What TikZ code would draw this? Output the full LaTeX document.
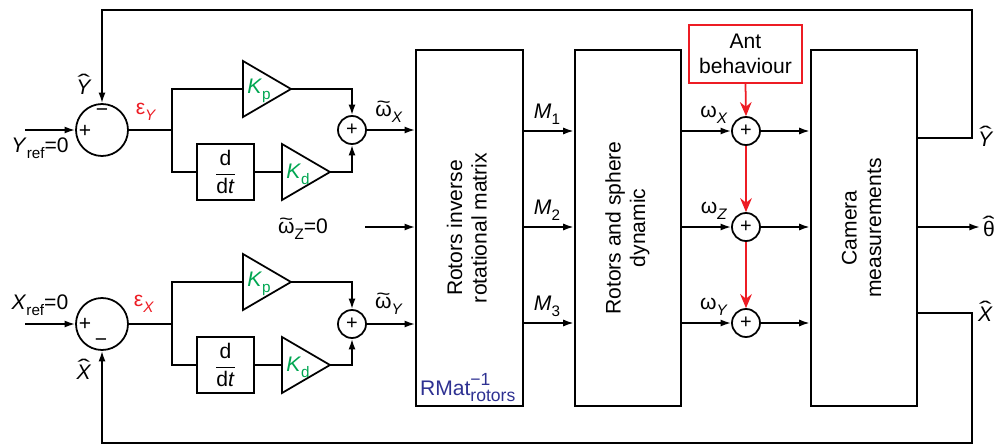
\documentclass[tikz,border=0pt]{standalone}
\usepackage{fontspec}
\setmainfont{Liberation Sans}
\usetikzlibrary{arrows.meta,shapes.geometric,calc}
\definecolor{antred}{RGB}{237,28,36}
\definecolor{kgreen}{RGB}{0,166,81}
\definecolor{rblue}{RGB}{46,49,146}
\newcommand\sbs[1]{\raisebox{-0.3em}{\fontsize{13}{13}\selectfont #1}}
\newcommand\sbb[1]{\raisebox{-0.3em}{\fontsize{15}{15}\selectfont #1}}
\newcommand\sps[1]{\raisebox{0.45em}{\fontsize{15}{15}\selectfont #1}}
\newcommand\tld[1]{{\ooalign{#1\cr\hidewidth\raisebox{0.38em}{\scalebox{1.15}[0.9]{\char"7E}}\hidewidth\cr}}}
\newcommand\hatc[1]{{\ooalign{#1\cr\hidewidth\raisebox{0.22em}{\scalebox{1.8}[1]{ˆ}}\hidewidth\cr}}}
\tikzset{
  blk/.style={draw, line width=1.5pt, minimum width=3.2cm, minimum height=10.68cm, inner sep=0pt},
  bigsum/.style={draw, circle, line width=1.5pt, minimum size=1.56cm, inner sep=0pt},
  smsum/.style={draw, circle, line width=1.5pt, minimum size=0.84cm, inner sep=0pt, font=\fontsize{17}{17}\selectfont},
  ddt/.style={draw, line width=1.5pt, minimum width=1.71cm, minimum height=1.68cm, inner sep=0pt},
  sgn/.style={font=\fontsize{18}{18}\selectfont, inner sep=0pt},
  lbl/.style={inner sep=1pt},
  redarr/.style={draw=antred, line width=1.5pt, -{Stealth[length=12pt,width=10pt,inset=4pt]}},
  gaintri/.pic={
    \draw (-24,-28) -- (24,0) -- (-24,28) -- cycle;
    \coordinate (-in) at (-24,0);
    \coordinate (-out) at (24,0);
    \node[text=kgreen, inner sep=0pt] (-txt) at (-8,2) {#1};
  },
}
\begin{document}
\begin{tikzpicture}[x=0.03cm, y=-0.03cm, line width=1.5pt,
  font=\fontsize{18}{21}\selectfont, >={Latex[length=9pt,width=6pt]}]
\useasboundingbox (0,0) rectangle (994,445);

% main blocks
\node[blk, align=center, minimum width=3.21cm] (rot) at (469.5,228)
  {\rotatebox{90}{\begin{tabular}{c}Rotors inverse\\rotational matrix\end{tabular}}};
\node[blk] (dyn) at (628,228)
  {\rotatebox{90}{\begin{tabular}{c}Rotors and sphere\\dynamic\end{tabular}}};
\node[blk] (cam) at (864,228)
  {\rotatebox{90}{\begin{tabular}{c}Camera\\measurements\end{tabular}}};
\node[anchor=south west, text=rblue, inner sep=1pt] (rmat) at (418,404)
  {RMat\rlap{\sps{−1}}\sbb{rotors}};

% Y loop
\node[bigsum] (ey) at (102,130) {};
\node[sgn] (eyp) at (85,131) {+};
\node[sgn] (eym) at (102,113) {−};
\coordinate (yref) at (25,130);
\draw[->] (yref) -- (ey.west);
\node[lbl] (yreflbl) at (40,148) {\textit{Y}\sbs{ref}=0};
\node[lbl, text=antred] (epsy) at (146,112) {ε\sbs{\textit{Y}}};
\coordinate (by) at (172,130);
\draw (ey.east) -- (by);
\pic (kpy) at (267,89) {gaintri={\textit{K}\sbs{p}}};
\node[ddt] (ddty) at (225.5,172) {$\displaystyle\frac{\hbox{d}}{\hbox{d\textit{t}}}$};
\pic (kdy) at (306,172) {gaintri={\textit{K}\sbs{d}}};
\node[smsum] (sy) at (352,130) {+};
\draw (by) |- (kpy-in);
\draw (by) |- (ddty.west);
\draw (ddty.east) -- (kdy-in);
\draw[->] (kpy-out) -| (sy.north);
\draw[->] (kdy-out) -| (sy.south);
\draw[->] (sy.east) -- (sy -| rot.west);
\node[lbl] (wtx) at (389,114) {\tld{ω}\sbs{\textit{X}}};

% X loop
\node[bigsum] (ex) at (102,324) {};
\node[sgn] (exp) at (85,324) {+};
\node[sgn] (exm) at (101,343) {−};
\coordinate (xref) at (25,324);
\draw[->] (xref) -- (ex.west);
\node[lbl] (xreflbl) at (40,305) {\textit{X}\sbs{ref}=0};
\node[lbl, text=antred] (epsx) at (144,304) {ε\sbs{\textit{X}}};
\coordinate (bx) at (172,324);
\draw (ex.east) -- (bx);
\pic (kpx) at (267,282) {gaintri={\textit{K}\sbs{p}}};
\node[ddt] (ddtx) at (225.5,365) {$\displaystyle\frac{\hbox{d}}{\hbox{d\textit{t}}}$};
\pic (kdx) at (306,365) {gaintri={\textit{K}\sbs{d}}};
\node[smsum] (sx2) at (352,324) {+};
\draw (bx) |- (kpx-in);
\draw (bx) |- (ddtx.west);
\draw (ddtx.east) -- (kdx-in);
\draw[->] (kpx-out) -| (sx2.north);
\draw[->] (kdx-out) -| (sx2.south);
\draw[->] (sx2.east) -- (sx2 -| rot.west);
\node[lbl] (wty) at (389,306) {\tld{ω}\sbs{\textit{Y}}};

% omega_Z reference
\node[lbl] (wtz) at (303,229) {\tld{ω}\sbs{Z}=0};
\coordinate (wzs) at (365,227);
\draw[->] (wzs) -- (wzs -| rot.west);

% M arrows
\coordinate (m1) at (523,131);
\coordinate (m2) at (523,227);
\coordinate (m3) at (523,323);
\draw[->] (rot.east |- m1) -- (dyn.west |- m1);
\draw[->] (rot.east |- m2) -- (dyn.west |- m2);
\draw[->] (rot.east |- m3) -- (dyn.west |- m3);
\node[lbl] (m1l) at (547,114) {\textit{M}\sbs{1}};
\node[lbl] (m2l) at (547,210) {\textit{M}\sbs{2}};
\node[lbl] (m3l) at (547,306) {\textit{M}\sbs{3}};

% disturbance sums
\node[smsum] (ox) at (746,131) {+};
\node[smsum] (oz) at (746,227) {+};
\node[smsum] (oy) at (746,323) {+};
\draw[->] (dyn.east |- ox) -- (ox.west);
\draw[->] (dyn.east |- oz) -- (oz.west);
\draw[->] (dyn.east |- oy) -- (oy.west);
\draw[->] (ox.east) -- (ox -| cam.west);
\draw[->] (oz.east) -- (oz -| cam.west);
\draw[->] (oy.east) -- (oy -| cam.west);
\node[lbl] (wxl) at (714,115) {ω\sbs{\textit{X}}};
\node[lbl] (wzl) at (714,211) {ω\sbs{\textit{Z}}};
\node[lbl] (wyl) at (714,307) {ω\sbs{\textit{Y}}};

\node[draw=antred, line width=1.2pt, align=center, minimum width=3.39cm, minimum height=1.74cm,
  inner sep=0pt] (ant) at (745.5,54) {Ant\\behaviour};
\draw[redarr] (ant.south) -- (ox.north);
\draw[redarr] (ox.south) -- (oz.north);
\draw[redarr] (oz.south) -- (oy.north);

% outputs and feedback
\coordinate (cy) at (972,10);
\coordinate (cx) at (972,443);
\coordinate (yo) at (917,138);
\coordinate (xo) at (917,313);
\draw[->] (cam.east |- yo) -| (cy) -| (ey.north);
\draw[->] (cam.east |- xo) -| (cx) -| (ex.south);
\coordinate (th) at (980,227);
\draw[->] (cam.east |- th) -- (th);
\node[anchor=west, inner sep=1pt] (yhat) at (976,139) {\hatc{\textit{Y}}};
\node[anchor=west, inner sep=1pt] (xhat) at (976,314) {\hatc{\textit{X}}};
\node[anchor=west, inner sep=1pt] (thhat) at (981,229) {\hatc{θ}};
\node[lbl] (yhatl) at (84,87) {\hatc{\textit{Y}}};
\node[lbl] (xhatl) at (84,372) {\hatc{\textit{X}}};
\end{tikzpicture}
\end{document}
